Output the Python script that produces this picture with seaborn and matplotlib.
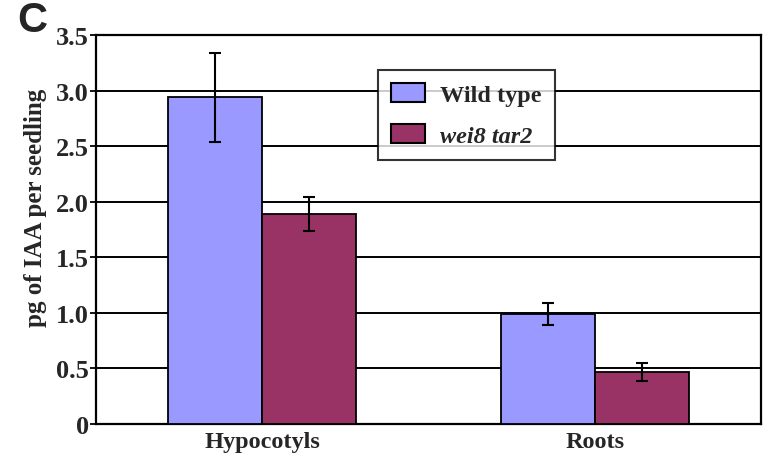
import matplotlib
matplotlib.use("Agg")
import matplotlib.pyplot as plt
import seaborn as sns
import pandas as pd
import numpy as np

# ---- data ----
tissues = ["Hypocotyls", "Roots"]
genotypes = ["Wild type", "wei8 tar2"]
wild_type = [2.94, 0.99]
wild_type_err = [0.40, 0.10]
mutant = [1.89, 0.47]
mutant_err = [0.15, 0.08]
y_ticks = [0, 0.5, 1.0, 1.5, 2.0, 2.5, 3.0, 3.5]
y_tick_labels = ["0", "0.5", "1.0", "1.5", "2.0", "2.5", "3.0", "3.5"]

df = pd.DataFrame({
    "tissue": tissues * 2,
    "genotype": [genotypes[0]] * 2 + [genotypes[1]] * 2,
    "value": wild_type + mutant,
    "err": wild_type_err + mutant_err,
})

sns.set_style("white")
plt.rcParams["font.family"] = ["Liberation Serif", "DejaVu Serif"]

fig = plt.figure(figsize=(7.63, 4.64), dpi=100)
ax = fig.add_axes([96 / 763, 1 - 425 / 464, (761 - 96) / 763, (425 - 36) / 464])

palette = {genotypes[0]: "#9999FF", genotypes[1]: "#993366"}
sns.barplot(data=df, x="tissue", y="value", hue="genotype", order=tissues,
            hue_order=genotypes, palette=palette, width=0.566, errorbar=None,
            edgecolor="black", linewidth=1.3, saturation=1, ax=ax, zorder=3)

errs = [wild_type_err, mutant_err]
for cont, err in zip(ax.containers, errs):
    xs = [p.get_x() + p.get_width() / 2 for p in cont.patches]
    hs = [p.get_height() for p in cont.patches]
    ax.errorbar(xs, hs, yerr=err, fmt="none", ecolor="black", elinewidth=1.5,
                capsize=4, capthick=1.5, zorder=4)

ax.set_xlim(-0.5, 1.5)
ax.set_ylim(0, 3.5)
ax.set_yticks(y_ticks)
ax.set_yticklabels(y_tick_labels, fontsize=19, fontweight="bold")
ax.set_xticks([0, 1])
ax.set_xticklabels(tissues, fontsize=17.5, fontweight="bold")
ax.set_xticks([-0.5, 0.5, 1.5], minor=True)
ax.tick_params(axis="x", which="major", length=0, pad=5)
ax.tick_params(axis="x", which="minor", direction="out", length=4, width=1.3, color="black")
ax.tick_params(axis="y", which="major", direction="out", length=4, width=1.3, color="black", pad=1, left=True)
ax.yaxis.grid(True, color="black", linewidth=1.4, zorder=0)
ax.set_axisbelow(True)
for s in ax.spines.values():
    s.set_visible(True)
    s.set_color("black")
    s.set_linewidth(1.6)

ax.set_xlabel("")
ax.set_ylabel("pg of IAA per seedling", fontsize=18, fontweight="bold")
ax.yaxis.set_label_coords((47 - 96) / 665, (425 - 208) / 389)

leg = ax.legend(loc="upper left", bbox_to_anchor=((378 - 96) / 665, (425 - 71) / 389),
                frameon=True, fancybox=False, fontsize=17.5, handlelength=1.4,
                handleheight=0.8, borderpad=0.55, labelspacing=0.75, handletextpad=0.6,
                borderaxespad=0)
leg.get_frame().set_edgecolor("black")
leg.get_frame().set_linewidth(1.5)
for t in leg.get_texts():
    t.set_fontweight("bold")
leg.get_texts()[1].set_fontstyle("italic")
for h in leg.legend_handles:
    h.set_edgecolor("black")
    h.set_linewidth(1.5)

fig.text(17 / 763, 1 - 32 / 464, "C", fontsize=30, fontweight="bold",
         family=["Liberation Sans", "DejaVu Sans"], va="baseline", ha="left")

fig.savefig("out.png", dpi=100)
